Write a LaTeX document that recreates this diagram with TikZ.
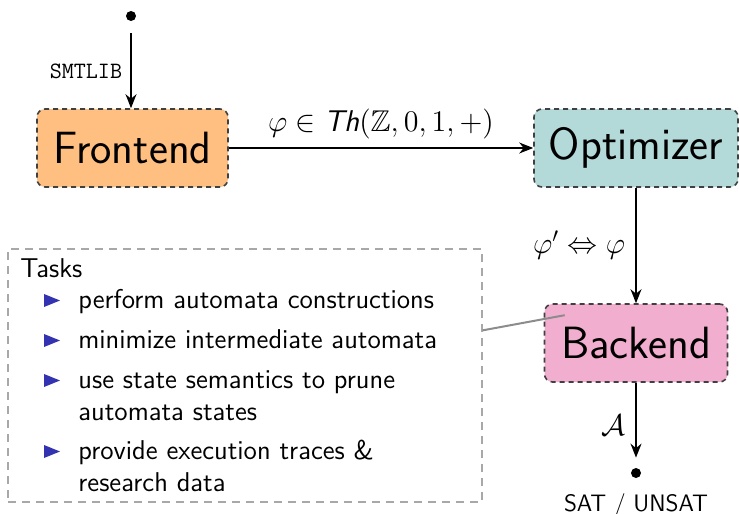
\RequirePackage{fix-cm}
\documentclass[tikz,border=0pt]{standalone}
\usepackage{amssymb}
\usetikzlibrary{arrows.meta,calc}
\definecolor{frontfill}{HTML}{FFBF80}
\definecolor{optfill}{HTML}{B3D9D9}
\definecolor{backfill}{HTML}{F2AECF}
\definecolor{bulletblue}{rgb}{0.2,0.2,0.7}
\definecolor{boxgray}{HTML}{A8A8A8}
\definecolor{pingray}{HTML}{8C8C8C}
\begin{document}
\begin{tikzpicture}[x=0.5pt,y=-0.5pt,
  comp/.style={draw=black!75, dash pattern=on 2.5pt off 2pt, line width=0.8pt,
    rounded corners=4pt, minimum height=39pt, inner sep=0pt,
    font=\sffamily\fontsize{22.6}{27}\selectfont},
  arr/.style={-{Stealth[length=7pt,width=5.5pt]}, line width=0.9pt},
  dot/.style={circle, fill=black, inner sep=0pt, minimum size=5pt},
  elab/.style={font=\fontsize{15}{18}\selectfont},
  task/.style={anchor=base west, inner sep=0pt, font=\sffamily\fontsize{13.6}{16}\selectfont},
  tasksbox/.style={draw=boxgray, dash pattern=on 4pt off 3pt, line width=0.65pt,
    minimum width=237pt, minimum height=126.5pt, inner sep=0pt},
]
\useasboundingbox (0,0) rectangle (739,514);

\node[dot] (in) at (131,16) {};
\node[comp, fill=frontfill, minimum width=95.5pt] (frontend) at (132.5,148) {Frontend};
\node[comp, fill=optfill, minimum width=102pt] (optimizer) at (636,148) {Optimizer};
\node[comp, fill=backfill, minimum width=91.5pt] (backend) at (636,343) {Backend};
\node[dot] (out) at (636,473) {};
\node[anchor=base, inner sep=0pt, font=\sffamily\fontsize{11.9}{14}\selectfont] (res) at (636,511) {SAT / UNSAT};

\draw[arr, shorten <=6pt] (in) -- (in |- frontend.north)
  node[pos=0.58, left, inner sep=4pt, font=\ttfamily\fontsize{11.7}{14}\selectfont] {SMTLIB};
\draw[arr] (frontend) -- (optimizer)
  node[midway, above, elab, inner sep=4pt] {$\varphi \in \textsf{\textit{Th}}(\mathbb{Z},0,1,+)$};
\draw[arr] (optimizer) -- (backend)
  node[midway, left, elab, inner sep=5pt] {$\varphi' \Leftrightarrow \varphi$};
\draw[arr, shorten >=5pt] (backend) -- (out)
  node[midway, left, elab, inner sep=5pt] {$\mathcal{A}$};

\node[tasksbox] (tasks) at (245,375.5) {};
\node[task] (t0) at (20,277) {Tasks};
\node[task] (t1) at (78,308) {perform automata constructions};
\node[task] (t2) at (78,348) {minimize intermediate automata};
\node[task] (t3) at (78,388) {use state semantics to prune};
\node[task] (t3b) at (78,420) {automata states};
\node[task] (t4) at (78,459) {provide execution traces \&};
\node[task] (t4b) at (78,491) {research data};
\foreach \yy in {308,348,388,459}
  \fill[bulletblue] (44,\yy-1) -- (60,\yy-7.5) -- (44,\yy-14) -- cycle;

\draw[pingray, line width=1pt] ($(tasks.north east)+(0,82)$) -- ($(backend.north west)+(21,12)$);
\end{tikzpicture}
\end{document}
